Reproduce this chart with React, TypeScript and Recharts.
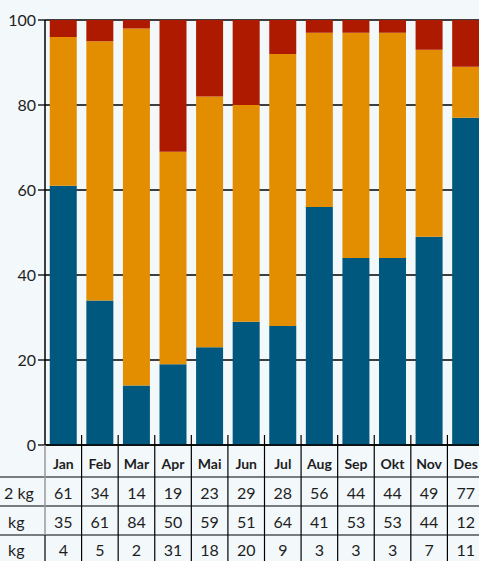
import React from 'react';
import { BarChart, Bar, XAxis, YAxis, CartesianGrid } from 'recharts';

const months = ['Jan', 'Feb', 'Mar', 'Apr', 'Mai', 'Jun', 'Jul', 'Aug', 'Sep', 'Okt', 'Nov', 'Des'];
const small = [61, 34, 14, 19, 23, 29, 28, 56, 44, 44, 49, 77];
const medium = [35, 61, 84, 50, 59, 51, 64, 41, 53, 53, 44, 12];
const large = [4, 5, 2, 31, 18, 20, 9, 3, 3, 3, 7, 11];
const rowLabels = ['2 kg', 'kg', 'kg'];
const yTicks = [0, 20, 40, 60, 80, 100];

const series = [small, medium, large];
const data = months.map((m, i) => ({ month: m, small: small[i], medium: medium[i], large: large[i] }));

const FONT = 'Lato, "Open Sans", sans-serif';
const TEXT = '#1e1e1e';

function TableTick(props: any) {
  const { x, y, payload, index } = props;
  const i = payload?.index ?? index;
  const half = payload?.offset ? payload.offset : 18.27;
  const rowY = [y + 32, y + 61, y + 90];
  const valY = [y + 47, y + 76, y + 104];
  return (
    <g>
      {i === 0 && (
        <g>
          {rowY.map((ry, k) => (
            <line key={k} x1={0} x2={479} y1={ry} y2={ry} stroke="#000" strokeWidth={1.2} />
          ))}
          <line x1={x - half} x2={x - half} y1={y} y2={y + 90} stroke="#9a9a9a" strokeWidth={1.5} />
          <line x1={x - half} x2={x - half} y1={y + 90} y2={y + 116} stroke="#000" strokeWidth={1.2} />
          {rowLabels.map((lab, k) => (
            <text key={k} x={k === 0 ? 4 : 8} y={valY[k]} textAnchor="start" dominantBaseline="central"
              fontFamily={FONT} fontSize={16} fill={TEXT}>{lab}</text>
          ))}
        </g>
      )}
      <line x1={x + half} x2={x + half} y1={y - 10} y2={y + 116} stroke="#000" strokeWidth={1.2} />
      <text x={x} y={y + 18} textAnchor="middle" dominantBaseline="central" fontFamily={FONT}
        fontSize={14} fontWeight={700} fill={TEXT}>{payload.value}</text>
      {series.map((s, k) => (
        <text key={k} x={x} y={valY[k]} textAnchor="middle" dominantBaseline="central" fontFamily={FONT}
          fontSize={16} fill={TEXT}>{s[i]}</text>
      ))}
    </g>
  );
}

export default function App() {
  return (
    <div style={{ position: 'absolute', left: 0, top: 0, width: 479, height: 561, background: '#f3f8fb', overflow: 'hidden' }}>
      <BarChart width={479} height={561} data={data} margin={{ top: 20, right: -5, bottom: 0, left: 0 }}
        barCategoryGap="13%">
        <CartesianGrid vertical={false} stroke="#000" strokeWidth={1.3} />
        <XAxis dataKey="month" height={116} tickLine={false} tickSize={0} tickMargin={0}
          axisLine={{ stroke: '#000', strokeWidth: 1.3 }} tick={<TableTick />} interval={0} />
        <YAxis width={45} domain={[0, 100]} ticks={yTicks} allowDataOverflow tickSize={7} tickMargin={2}
          axisLine={{ stroke: '#000', strokeWidth: 1.5 }} tickLine={{ stroke: '#000', strokeWidth: 1.3 }}
          tick={{ fontFamily: FONT, fontSize: 16, fill: TEXT }} />
        <Bar dataKey="small" stackId="a" fill="#00587f" isAnimationActive={false} />
        <Bar dataKey="medium" stackId="a" fill="#e38e00" isAnimationActive={false} />
        <Bar dataKey="large" stackId="a" fill="#ae1a00" isAnimationActive={false} />
      </BarChart>
    </div>
  );
}
